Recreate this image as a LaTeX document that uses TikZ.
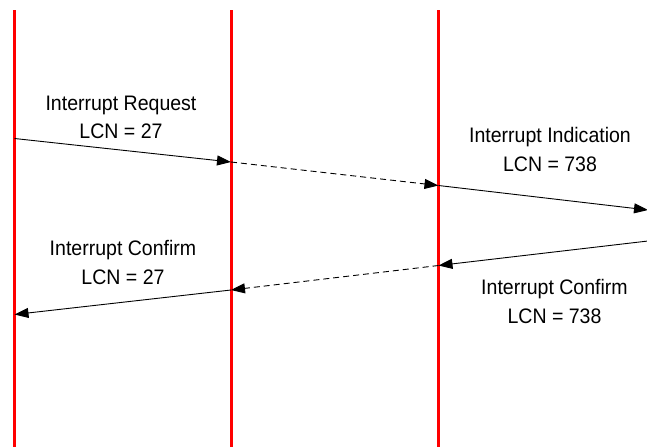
\documentclass[tikz,border=0pt]{standalone}
\usepackage{fontspec}
\setmainfont{Liberation Sans}[FakeStretch=0.93]
\usetikzlibrary{arrows.meta}
\begin{document}
\begin{tikzpicture}[x=1pt,y=-1pt,
  lifeline/.style={draw=red,line width=3pt},
  msg/.style={draw=black,line width=0.9pt,-{Triangle[length=14pt,width=10pt]}},
  relay/.style={msg,dash pattern=on 6pt off 4pt},
  msglabel/.style={align=center,inner sep=0pt,
    font=\fontsize{21}{28.7}\selectfont}]
\useasboundingbox (0,0) rectangle (647,447);

% lifelines
\coordinate (A) at (14.5,0);
\coordinate (B) at (231,0);
\coordinate (C) at (438.5,0);
\foreach \l in {A,B,C}
  \draw[lifeline] (\l |- 0,10) -- (\l |- 0,447);

% points where messages meet the lifelines
\coordinate (a1) at (14.5,138.5);
\coordinate (b1) at (231,162);
\coordinate (c1) at (438.5,185.5);
\coordinate (d1) at (648,210);
\coordinate (d2) at (648,241);
\coordinate (c2) at (438.5,265.5);
\coordinate (b2) at (231,290);
\coordinate (a2) at (14.5,314.5);

% request / indication
\draw[msg] (a1) -- (b1);
\draw[relay] (b1) -- (c1);
\draw[msg] (c1) -- (d1);

% confirmations
\draw[msg] (d2) -- (c2);
\draw[relay] (c2) -- (b2);
\draw[msg] (b2) -- (a2);

% labels
\node[msglabel] (req) at (121,117.5) {Interrupt Request\\LCN = 27};
\node[msglabel] (ind) at (550,149.7) {Interrupt Indication\\LCN = 738};
\node[msglabel] (cnfa) at (123,262.7) {Interrupt Confirm\\LCN = 27};
\node[msglabel] (cnfb) at (554.5,301.7) {Interrupt Confirm\\LCN = 738};
\end{tikzpicture}
\end{document}
